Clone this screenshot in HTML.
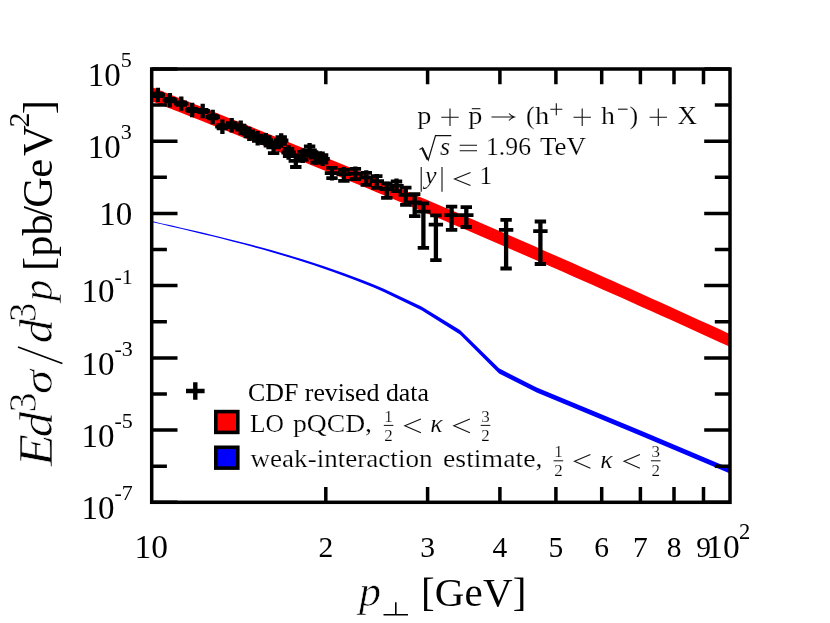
<!DOCTYPE html>
<html><head><meta charset="utf-8"><title>plot</title><style>html,body{margin:0;padding:0;background:#fff}svg{display:block;will-change:transform}</style></head><body>
<svg width="830" height="623" viewBox="0 0 830 623">
<rect width="830" height="623" fill="#fff"/>
<polygon fill="#ff0000" points="151.7,87.1 161.5,91.0 171.3,94.9 181.1,98.8 190.9,102.7 200.7,106.6 210.5,110.5 220.3,114.4 230.1,118.4 239.9,122.3 249.7,126.3 259.5,130.2 269.3,134.2 279.1,138.2 288.9,142.2 298.7,146.3 308.5,150.3 318.3,154.3 328.1,158.4 337.9,162.5 347.7,166.5 357.5,170.6 367.3,174.7 377.1,178.8 386.9,182.9 396.7,187.1 406.5,191.2 416.3,195.4 426.1,199.5 435.9,203.7 445.8,207.9 455.6,212.1 465.4,216.3 475.2,220.5 485.0,224.8 494.8,229.0 504.6,233.3 514.4,237.5 524.2,241.8 534.0,246.1 543.8,250.4 553.6,254.7 563.4,259.0 573.2,263.3 583.0,267.7 592.8,272.0 602.6,276.4 612.4,280.8 622.2,285.2 632.0,289.6 641.8,294.0 651.6,298.4 661.4,302.8 671.2,307.3 681.0,311.7 690.8,316.2 700.6,320.7 710.4,325.1 720.2,329.6 730.0,334.2 730.0,346.8 720.2,342.4 710.4,337.9 700.6,333.4 690.8,329.0 681.0,324.5 671.2,320.1 661.4,315.7 651.6,311.3 641.8,306.9 632.0,302.5 622.2,298.1 612.4,293.8 602.6,289.4 592.8,285.1 583.0,280.7 573.2,276.4 563.4,272.1 553.6,267.8 543.8,263.5 534.0,259.3 524.2,255.0 514.4,250.7 504.6,246.5 494.8,242.3 485.0,238.1 475.2,233.8 465.4,229.6 455.6,225.5 445.8,221.3 435.9,217.1 426.1,213.0 416.3,208.8 406.5,204.7 396.7,200.6 386.9,196.5 377.1,192.4 367.3,188.3 357.5,184.2 347.7,180.2 337.9,176.1 328.1,172.1 318.3,168.0 308.5,164.0 298.7,160.0 288.9,156.0 279.1,152.0 269.3,148.1 259.5,144.1 249.7,140.1 239.9,136.2 230.1,132.3 220.3,128.3 210.5,124.4 200.7,120.5 190.9,116.7 181.1,112.8 171.3,108.9 161.5,105.1 151.7,101.2"/>
<polygon fill="#0000ff" points="151.7,221.1 161.8,223.4 171.9,225.6 182.0,227.9 192.1,230.2 202.2,232.5 212.2,234.9 222.3,237.4 232.4,239.9 242.5,242.4 252.6,245.1 262.7,247.8 272.8,250.5 282.9,253.4 293.0,256.4 303.1,259.5 313.2,262.7 323.3,266.0 333.3,269.4 343.4,273.0 353.5,276.7 363.6,280.5 373.7,284.5 383.8,288.7 421.5,306.4 460.0,329.9 499.0,368.3 536.7,387.6 640.6,430.6 730.0,468.2 730.0,473.4 640.6,435.8 536.7,392.6 499.0,373.5 460.0,334.5 421.5,310.2 383.8,291.9 373.7,287.6 363.6,283.5 353.5,279.5 343.4,275.7 333.3,272.0 323.3,268.5 313.2,265.1 303.1,261.8 293.0,258.6 282.9,255.5 272.8,252.5 262.7,249.6 252.6,246.8 242.5,244.1 232.4,241.4 222.3,238.8 212.2,236.3 202.2,233.9 192.1,231.4 182.0,229.0 171.9,226.7 161.8,224.3 151.7,222.0"/>
<path d="M150.7 94.9H165.1M152.2 93.7H163.6M152.2 96.1H163.6M162.7 100.2H177.1M164.2 99.0H175.6M164.2 101.4H175.6M174.1 103.6H188.5M175.6 102.4H187.0M175.6 104.8H187.0M185.0 110.0H199.4M186.5 108.8H197.9M186.5 111.2H197.9M195.5 111.0H209.9M197.0 109.8H208.4M197.0 112.2H208.4M205.5 117.0H219.9M207.0 115.7H218.4M207.0 118.3H218.4M215.2 126.7H229.6M216.7 125.1H228.1M216.7 128.3H228.1M224.5 125.2H238.9M226.0 123.2H237.4M226.0 127.2H237.4M233.5 127.7H247.9M235.0 125.7H246.4M235.0 129.7H246.4M242.1 133.9H256.5M243.6 131.5H255.0M243.6 136.3H255.0M250.5 138.3H264.9M252.0 135.7H263.4M252.0 140.9H263.4M258.6 140.2H273.0M260.1 137.2H271.5M260.1 143.2H271.5M266.4 147.4H280.8M267.9 143.8H279.3M267.9 153.2H279.3M274.0 140.5H288.4M275.5 137.1H286.9M275.5 143.9H286.9M281.4 152.5H295.8M282.9 148.9H294.3M282.9 156.1H294.3M288.6 160.8H303.0M290.1 156.2H301.5M290.1 167.0H301.5M295.6 155.8H310.0M297.1 151.8H308.5M297.1 159.8H308.5M302.4 150.3H316.8M303.9 146.3H315.3M303.9 154.3H315.3M309.0 157.5H323.4M310.5 153.1H321.9M310.5 162.5H321.9M315.4 158.8H329.8M316.9 155.2H328.3M316.9 162.6H328.3M324.8 173.2H339.2M326.3 167.9H337.7M326.3 178.2H337.7M336.7 174.2H351.1M338.2 169.8H349.6M338.2 180.8H349.6M348.2 173.6H362.6M349.7 168.8H361.1M349.7 179.2H361.1M359.1 177.4H373.5M360.6 172.8H372.0M360.6 184.8H372.0M369.6 181.2H384.0M371.1 176.2H382.5M371.1 187.8H382.5M379.6 189.0H394.0M381.1 183.4H392.5M381.1 197.8H392.5M389.3 185.8H403.7M390.8 181.5H402.2M390.8 191.2H402.2M398.6 194.8H413.0M400.1 187.7H411.5M400.1 204.9H411.5M407.5 202.5H421.9M409.0 194.2H420.4M409.0 216.1H420.4M416.2 211.6H430.6M417.7 203.4H429.1M417.7 247.8H429.1M428.7 224.7H443.1M430.2 215.3H441.6M430.2 260.1H441.6M444.4 215.2H458.8M445.9 206.7H457.3M445.9 229.8H457.3M459.1 215.2H473.5M460.6 207.2H472.0M460.6 227.0H472.0M498.9 229.9H513.3M500.4 219.8H511.8M500.4 268.5H511.8M533.2 231.1H547.6M534.7 221.5H546.1M534.7 264.0H546.1" stroke="#000" stroke-width="3.8" fill="none"/>
<path d="M157.9 87.7V102.1M169.9 93.0V107.4M181.3 96.4V110.8M192.2 102.8V117.2M202.7 103.8V118.2M212.7 109.8V124.2M222.4 119.5V133.9M231.7 118.0V132.4M240.7 120.5V134.9M249.3 126.7V141.1M257.7 131.1V145.5M265.8 133.0V147.4M273.6 140.2V154.6M281.2 133.3V147.7M288.6 145.3V159.7M295.8 153.6V168.0M302.8 148.6V163.0M309.6 143.1V157.5M316.2 150.3V164.7M322.6 151.6V166.0M332.0 166.0V180.4M343.9 167.0V181.4M355.4 166.4V180.8M366.3 170.2V184.8M376.8 174.0V188.4M386.8 181.8V197.8M396.5 178.6V193.0M405.8 187.6V204.9M414.7 194.2V216.1M423.4 203.4V247.8M435.9 215.3V260.1M451.6 206.7V229.8M466.3 207.2V227.0M506.1 219.8V268.5M540.4 221.5V264.0" stroke="#000" stroke-width="4.3" fill="none"/>
<rect x="151.7" y="69.0" width="578.3" height="433.3" fill="none" stroke="#000" stroke-width="3.5"/>
<path d="M151.7 502.3h25.8M730.0 502.3h-25.8M151.7 466.2h15.2M730.0 466.2h-15.2M151.7 430.1h25.8M730.0 430.1h-25.8M151.7 394.0h15.2M730.0 394.0h-15.2M151.7 357.9h25.8M730.0 357.9h-25.8M151.7 321.8h15.2M730.0 321.8h-15.2M151.7 285.6h25.8M730.0 285.6h-25.8M151.7 249.5h15.2M730.0 249.5h-15.2M151.7 213.4h25.8M730.0 213.4h-25.8M151.7 177.3h15.2M730.0 177.3h-15.2M151.7 141.2h25.8M730.0 141.2h-25.8M151.7 105.1h15.2M730.0 105.1h-15.2M151.7 69.0h25.8M730.0 69.0h-25.8M325.8 69.0v15.3M325.8 502.3v-15.3M427.6 69.0v15.3M427.6 502.3v-15.3M499.9 69.0v15.3M499.9 502.3v-15.3M555.9 69.0v15.3M555.9 502.3v-15.3M601.7 69.0v15.3M601.7 502.3v-15.3M640.4 69.0v15.3M640.4 502.3v-15.3M674.0 69.0v15.3M674.0 502.3v-15.3M703.5 69.0v15.3M703.5 502.3v-15.3" stroke="#000" stroke-width="3.5" fill="none"/>
<g font-family="'Liberation Serif', serif" fill="#000">
<text x="120.7" y="85.6" font-size="33" text-anchor="end">10</text>
<text x="120.7" y="67.0" font-size="22">5</text>
<text x="120.7" y="157.8" font-size="33" text-anchor="end">10</text>
<text x="120.7" y="139.2" font-size="22">3</text>
<text x="132.3" y="224.9" font-size="33" text-anchor="end">10</text>
<text x="114.4" y="302.2" font-size="33" text-anchor="end">10</text>
<text x="114.4" y="283.6" font-size="22">-1</text>
<text x="114.4" y="374.5" font-size="33" text-anchor="end">10</text>
<text x="114.4" y="355.9" font-size="22">-3</text>
<text x="114.4" y="446.7" font-size="33" text-anchor="end">10</text>
<text x="114.4" y="428.1" font-size="22">-5</text>
<text x="114.4" y="518.9" font-size="33" text-anchor="end">10</text>
<text x="114.4" y="500.3" font-size="22">-7</text>
<text x="325.8" y="557.3" font-size="29.5" text-anchor="middle">2</text>
<text x="427.6" y="557.3" font-size="29.5" text-anchor="middle">3</text>
<text x="499.9" y="557.3" font-size="29.5" text-anchor="middle">4</text>
<text x="555.9" y="557.3" font-size="29.5" text-anchor="middle">5</text>
<text x="601.7" y="557.3" font-size="29.5" text-anchor="middle">6</text>
<text x="640.4" y="557.3" font-size="29.5" text-anchor="middle">7</text>
<text x="674.0" y="557.3" font-size="29.5" text-anchor="middle">8</text>
<text x="703.5" y="557.3" font-size="29.5" text-anchor="middle">9</text>
<text x="151.3" y="557.6" font-size="33.5" text-anchor="middle">10</text>
<text x="706.3" y="557.6" font-size="33.5">10</text>
<text x="739" y="538.6" font-size="22.5">2</text>
<text x="359" y="605.8" font-size="44" font-style="italic" stroke="#fff" stroke-width="0.6" paint-order="fill stroke">p</text>
<path d="M383.5 614.8H408M395.8 614.8V602.3" stroke="#000" stroke-width="1.6" fill="none"/>
<text x="420.9" y="605.8" font-size="41" letter-spacing="0.2">[GeV]</text>
<g transform="translate(51.7,0) rotate(-90)">
<text x="-271.0" y="0" font-size="42.5">[pb</text>
<text x="-217.7" y="0" font-size="42.5">/</text>
<text x="-207.7" y="0" font-size="42.5">G</text>
<text x="-177.7" y="0" font-size="42.5">e</text>
<text x="-156.0" y="0" font-size="42.5">V</text>
<text x="-127.5" y="-22.8" font-size="30">2</text>
<text x="-114.3" y="0" font-size="42.5">]</text>
<text transform="translate(-466.30,0.40) scale(1.104,1.000)" font-size="47.6" stroke="#fff" stroke-width="0.6" paint-order="fill stroke" font-style="italic">E</text>
<text transform="translate(-437.50,0.40) scale(1.130,1.000)" font-size="45.4" stroke="#fff" stroke-width="0.6" paint-order="fill stroke" font-style="italic">d</text>
<text transform="translate(-412.40,-15.60) scale(1.020,1.000)" font-size="39.5" stroke="#fff" stroke-width="0.6" paint-order="fill stroke">3</text>
<text transform="translate(-394.10,0.50) scale(1.082,0.935)" font-size="45.0" stroke="#fff" stroke-width="0.6" paint-order="fill stroke" font-style="italic">σ</text>
<text transform="translate(-343.30,0.00) scale(1.060,1.000)" font-size="45.4" stroke="#fff" stroke-width="0.6" paint-order="fill stroke" font-style="italic">d</text>
<text transform="translate(-322.00,-16.20) scale(0.980,1.000)" font-size="39.5" stroke="#fff" stroke-width="0.6" paint-order="fill stroke">3</text>
<text transform="translate(-301.10,0.30) scale(0.958,1.000)" font-size="44.7" stroke="#fff" stroke-width="0.6" paint-order="fill stroke" font-style="italic">p</text>
</g>
<path d="M18 347L62.4 363.4" stroke="#000" stroke-width="1.6"/>
<text x="248" y="400.5" font-size="25" textLength="181" lengthAdjust="spacingAndGlyphs">CDF revised data</text>
</g>
<path d="M186 391H204.6M195.3 382.3V399.8" stroke="#000" stroke-width="4.4" fill="none"/>
<rect x="215.8" y="411.6" width="22" height="20.8" fill="#ff0000" stroke="#000" stroke-width="3.6"/>
<rect x="215.8" y="447.3" width="22" height="20.8" fill="#0000ff" stroke="#000" stroke-width="3.6"/>
<g font-family="'Liberation Serif', serif" fill="#000" font-size="25" stroke="#fff" stroke-width="0.2" paint-order="fill stroke">
<text transform="translate(417.2,123.6) scale(1.13,1)">p</text>
<path d="M441.3 117.2h17.4M450.0 108.5v17.4" stroke="#111" stroke-width="1.1" fill="none"/>
<text transform="translate(468.2,123.6) scale(1.13,1)">p</text>
<path d="M471.8 108.7H480.4" stroke="#111" stroke-width="1.1"/>
<path d="M491.5 117H514M509 113.5Q511 116 514.3 117Q511 118 509 120.5" stroke="#111" stroke-width="1.1" fill="none"/>
<text x="526" y="123.6" font-size="26">(</text>
<text transform="translate(535,123.6) scale(1.14,1)">h</text>
<path d="M550.3 109.2h12.0M556.3 103.2v12.0" stroke="#111" stroke-width="1.1" fill="none"/>
<path d="M573.5 117.2h17.4M582.2 108.5v17.4" stroke="#111" stroke-width="1.1" fill="none"/>
<text transform="translate(601.1,123.6) scale(1.12,1)">h</text>
<path d="M618 109.2H627.6" stroke="#111" stroke-width="1.1"/>
<text x="629.6" y="123.6" font-size="26">)</text>
<path d="M649.6 117.2h17.4M658.3 108.5v17.4" stroke="#111" stroke-width="1.1" fill="none"/>
<text x="677.6" y="123.6" textLength="19.5" lengthAdjust="spacingAndGlyphs">X</text>
<path d="M419.5 149.5L422.5 147.8L428.3 160L435.5 135.6H451.3" stroke="#111" stroke-width="1.2" fill="none"/>
<path d="M422.3 148.4L427.6 159.6" stroke="#111" stroke-width="2.1" fill="none"/>
<text x="440" y="154.6" font-style="italic" font-size="26">s</text>
<path d="M459.7 145.2H477M459.7 150.7H477" stroke="#111" stroke-width="1.1"/>
<text x="486" y="154.6" textLength="45" lengthAdjust="spacingAndGlyphs">1.96</text>
<text x="540" y="154.6" textLength="46" lengthAdjust="spacingAndGlyphs">TeV</text>
<path d="M421.2 166.9V191.7M442 166.9V191.7" stroke="#111" stroke-width="1.1"/>
<text x="425" y="183.6" font-style="italic" font-size="26">y</text>
<path d="M470.5 172.5L454.5 179L470.5 185.5" stroke="#111" stroke-width="1.1" fill="none"/>
<text x="479.5" y="183.6">1</text>
<text x="250" y="431.8" textLength="34" lengthAdjust="spacingAndGlyphs">LO</text>
<text x="293" y="431.8" textLength="79" lengthAdjust="spacingAndGlyphs">pQCD,</text>
<text x="388.6" y="421.8" font-size="17" text-anchor="middle">1</text>
<text x="388.6" y="440.6" font-size="17" text-anchor="middle">2</text>
<path d="M383.8 425.4h9.6" stroke="#111" stroke-width="1"/>
<path d="M420.9 418.9L404.8 425.8L420.9 432.7" stroke="#111" stroke-width="1.1" fill="none"/>
<text x="430.2" y="432.1" font-style="italic" font-size="26">κ</text>
<path d="M469.9 418.9L453.8 425.8L469.9 432.7" stroke="#111" stroke-width="1.1" fill="none"/>
<text x="485.5" y="421.8" font-size="17" text-anchor="middle">3</text>
<text x="485.5" y="440.6" font-size="17" text-anchor="middle">2</text>
<path d="M480.7 425.4h9.6" stroke="#111" stroke-width="1"/>
<text x="250.5" y="467" textLength="182" lengthAdjust="spacingAndGlyphs">weak-interaction</text>
<text x="443" y="467" textLength="99.5" lengthAdjust="spacingAndGlyphs">estimate,</text>
<text x="558.4" y="457.2" font-size="17" text-anchor="middle">1</text>
<text x="558.4" y="476.0" font-size="17" text-anchor="middle">2</text>
<path d="M553.6 460.8h9.6" stroke="#111" stroke-width="1"/>
<path d="M590.4 454.4L574.5 461.3L590.4 468.2" stroke="#111" stroke-width="1.1" fill="none"/>
<text x="600.2" y="467.7" font-style="italic" font-size="26">κ</text>
<path d="M639.9 454.4L624.1 461.3L639.9 468.2" stroke="#111" stroke-width="1.1" fill="none"/>
<text x="655.7" y="457.2" font-size="17" text-anchor="middle">3</text>
<text x="655.7" y="476.0" font-size="17" text-anchor="middle">2</text>
<path d="M650.9 460.8h9.6" stroke="#111" stroke-width="1"/>
</g>
</svg>
</body></html>
